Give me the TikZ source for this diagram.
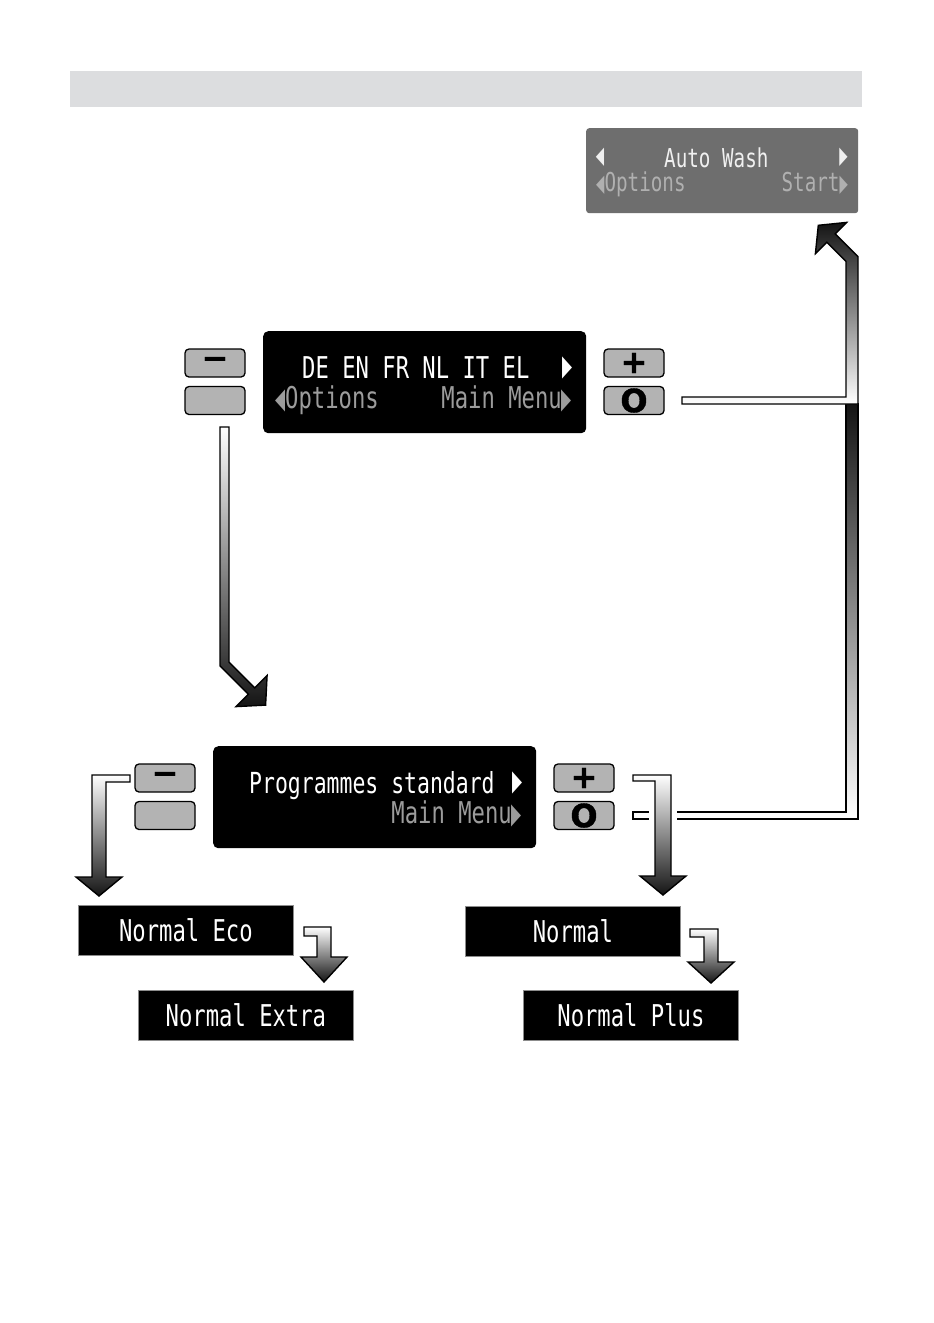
\documentclass[tikz,border=0pt]{standalone}
\usepackage{fontspec}
\newfontfamily\lcdfont[FakeStretch=0.74]{DejaVu Sans Mono}
\newfontfamily\trifont[FakeStretch=0.45]{DejaVu Sans}
\newfontfamily\btnfont[FakeBold=1.2]{DejaVu Sans Bold}
\definecolor{hdrgray}{HTML}{DCDDDF}
\definecolor{btngray}{HTML}{B3B3B3}
\definecolor{awgray}{HTML}{6E6E6E}
\definecolor{lcddim}{HTML}{9C9C9C}
\definecolor{awdim}{HTML}{B0B0B0}
\newcommand\rtri[1]{{\trifont\fontsize{#1}{#1}\selectfont ▶}}
\newcommand\ltri[1]{{\trifont\fontsize{#1}{#1}\selectfont ◀}}
\begin{document}
\begin{tikzpicture}[x=1pt,y=-1pt,
  btn/.style={draw=black, line width=1.3pt, fill=btngray, rounded corners=4pt,
    minimum width=60pt, minimum height=28pt, inner sep=0pt,
    font=\btnfont\fontsize{32}{32}\selectfont},
  lcd/.style={fill=black, rounded corners=5pt, minimum width=323pt,
    minimum height=102pt, inner sep=0pt},
  lcdtxt/.style={inner sep=0pt, text=white, font=\lcdfont\fontsize{30}{30}\selectfont},
  lcddimtxt/.style={lcdtxt, text=lcddim},
  awtxt/.style={inner sep=0pt, text=white!94!black, font=\lcdfont\fontsize{26}{26}\selectfont},
  awdimtxt/.style={awtxt, text=awdim},
  tri/.style={inner sep=0pt},
  prog/.style={fill=black, draw=black!45, line width=0.8pt, minimum width=215pt,
    minimum height=50pt, inner sep=0pt, text=white,
    font=\lcdfont\fontsize{30}{30}\selectfont},
  arrowshape/.style={draw=black, line width=1.4pt, line join=miter},
  downarrow/.style={arrowshape, top color=white, bottom color=black!92},
  uparrow/.style={arrowshape, top color=black!92, bottom color=white},
  halo/.style={draw=white, line width=12pt, line join=miter}
]
\useasboundingbox (0,0) rectangle (934,1323);
\fill[white] (0,0) rectangle (934,1323);

% header bar
\node[fill=hdrgray, minimum width=792pt, minimum height=36pt, inner sep=0pt,
  anchor=north west] (hdr) at (70,71) {};

% Auto Wash display
\node[fill=awgray, rounded corners=3pt, minimum width=272pt, minimum height=85pt,
  inner sep=0pt, anchor=north west] (aw) at (586,128) {};
\node[tri, text=white!94!black] (awl) at (600,157) {\ltri{24}};
\node[awtxt, anchor=base west] (awt) at (664,167) {Auto Wash};
\node[tri, text=white!94!black] (awr) at (843.5,157) {\rtri{24}};
\node[awdimtxt, anchor=base west] (awo) at (596,191) {\ltri{24}Options};
\node[awdimtxt, anchor=base east] (aws) at (848,191) {Start\rtri{24}};

% middle display
\node[lcd, anchor=north west] (d1) at (263,331) {};
\node[lcdtxt, anchor=base west] (d1a) at (302,378) {DE EN FR NL IT EL};
\node[tri, text=white] (d1t) at (567.5,367.5) {\rtri{29}};
\node[lcddimtxt, anchor=base west] (d1b) at (275,408) {\ltri{29}Options};
\node[lcddimtxt, anchor=base east] (d1c) at (572,408) {Main Menu\rtri{29}};

\node[btn] (m1) at (215,363) {−};
\node[btn] (b1) at (215,400.5) {};
\node[btn] (p1) at (634,363) {+};
\node[btn] (o1) at (634,400.5) {O};

% bottom display
\node[lcd, anchor=north west] (d2) at (213,746) {};
\node[lcdtxt, anchor=base west, font=\lcdfont\fontsize{29}{29}\selectfont] (d2a) at (249,793) {Programmes standard};
\node[tri, text=white] (d2t) at (517.5,782.5) {\rtri{29}};
\node[lcddimtxt, anchor=base east] (d2c) at (522,823) {Main Menu\rtri{29}};

\node[btn] (m2) at (165,778) {−};
\node[btn] (b2) at (165,815.5) {};
\node[btn] (p2) at (584,778) {+};
\node[btn] (o2) at (584,815.5) {O};

% programme boxes
\node[prog, anchor=north west] (eco) at (78,905) {Normal Eco};
\node[prog, anchor=north west] (extra) at (138,990) {Normal Extra};
\node[prog, anchor=north west] (normal) at (465,906) {Normal};
\node[prog, anchor=north west] (plus) at (523,990) {Normal Plus};

% arrow C: bottom O -> up to the upper arrow
\path[uparrow] (633,812) -- (846,812) -- (846,404) -- (858,404) -- (858,819) -- (633,819) -- cycle;
% arrow B: middle O -> Auto Wash
\path[uparrow] (682,397) -- (846,397) -- (846,261.4) -- (826.8,242.2) -- (815.4,253.6)
  -- (818.3,225.3) -- (846.6,222.4) -- (835.2,233.8) -- (858,256.6) -- (858,404)
  -- (682,404) -- cycle;
% arrow A: middle minus -> bottom display
\path[downarrow] (220,427) -- (220,665.9) -- (248.3,694.2) -- (235.9,706.6)
  -- (265.6,705.1) -- (267.1,675.4) -- (254.7,687.8) -- (229,662.1) -- (229,427) -- cycle;
% arrow E: bottom minus -> Normal Eco
\path[downarrow] (92,775) -- (130,775) -- (130,782) -- (106,782) -- (106,877)
  -- (122,877) -- (99,896) -- (76,877) -- (92,877) -- cycle;
% arrow D: bottom plus -> Normal
\path[halo] (655,876) -- (655,781) (671,781) -- (671,876);
\path[downarrow] (633,775) -- (671,775) -- (671,876) -- (686,876) -- (663,895)
  -- (640,876) -- (655,876) -- (655,781) -- (633,781) -- cycle;
% arrow F: Normal Eco -> Normal Extra
\path[downarrow] (304,927) -- (331,927) -- (331,957) -- (347,957) -- (324,982)
  -- (301,957) -- (317,957) -- (317,936) -- (304,936) -- cycle;
% arrow G: Normal -> Normal Plus
\path[downarrow] (690,929) -- (718,929) -- (718,962) -- (734,962) -- (711,983)
  -- (688,962) -- (704,962) -- (704,937) -- (690,937) -- cycle;
\end{tikzpicture}
\end{document}
